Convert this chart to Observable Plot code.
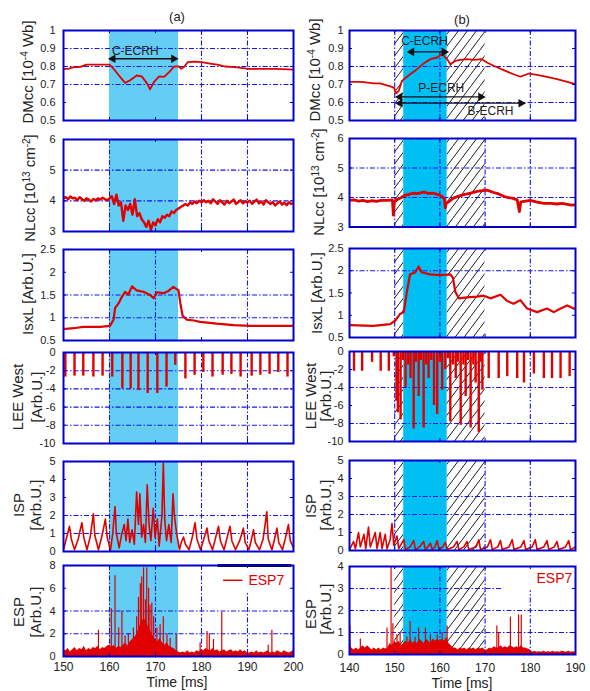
<!DOCTYPE html>
<html><head><meta charset="utf-8">
<script src="https://cdn.jsdelivr.net/npm/d3@7"></script>
<script src="https://cdn.jsdelivr.net/npm/@observablehq/plot@0.6"></script>
<style>
body{margin:0;background:#fff;}
#root{position:relative;width:590px;height:691px;overflow:hidden;font-family:"Liberation Sans",Arial,sans-serif;color:#222;}
.lab{position:absolute;white-space:nowrap;font-size:15px;line-height:1;transform:translate(-50%,-50%) rotate(-90deg);}
.lab sup{font-size:10px;vertical-align:0.45em;line-height:0;}
.h{position:absolute;white-space:nowrap;line-height:1;transform:translate(-50%,-50%);}
</style></head>
<body><div id="root"></div>
<svg width="0" height="0" style="position:absolute"><defs><pattern id="hatch" patternUnits="userSpaceOnUse" width="9" height="12"><path d="M-1,13.33L10,-1.33" stroke="#000" stroke-width="0.9" fill="none"/></pattern></defs></svg>
<script>
// ---------------- DATA ----------------
const ticksTA = [150,160,170,180,190,200];
const ticksTB = [140,150,160,170,180,190];
const ecrhA = [160,175];            // C-ECRH window (a)
const ecrhB = [152,161.6];          // C-ECRH window (b)
const hatchB = [[150,152],[161.6,170]];

// DMcc (a)
const dmccA = [[150,0.787],[151,0.787],[152.2,0.796],[153.5,0.796],[155,0.81],[157.9,0.81],[160,0.81],[160.6,0.795],[161.2,0.778],[162.3,0.742],[163.4,0.709],[164.5,0.724],[165.9,0.75],[167,0.745],[168.2,0.705],[168.8,0.673],[169.7,0.715],[170.8,0.745],[171.9,0.742],[173,0.77],[174.1,0.8],[175.1,0.8],[175.6,0.787],[176.3,0.8],[177,0.824],[178.5,0.827],[180,0.824],[182.2,0.815],[183.5,0.81],[185.1,0.8],[187.3,0.796],[190.2,0.787],[193.1,0.787],[196.1,0.787],[199,0.784],[200,0.782]];
// DMcc (b)
const dmccB = [[140.1,0.715],[142.7,0.715],[145.3,0.706],[146.8,0.706],[149.4,0.687],[149.9,0.68],[150.3,0.65],[150.9,0.665],[151.6,0.72],[152.7,0.743],[154.5,0.776],[156.4,0.817],[157.9,0.841],[159.4,0.85],[160.5,0.869],[161.6,0.841],[162.3,0.813],[163.4,0.831],[164.5,0.837],[166,0.841],[167.5,0.837],[169.3,0.841],[170.4,0.822],[171.9,0.804],[174.1,0.78],[176.3,0.757],[177.8,0.743],[179.7,0.761],[181.5,0.754],[183.7,0.743],[185.9,0.73],[188.2,0.715],[190,0.702]];
// annotation arrows [label, from, to, y, textX, textY]
const arrowsA = [["C-ECRH",160.1,174.6,0.843,165.6,0.887]];
const arrowsB = [["C-ECRH",153.1,161.6,0.881,156.6,0.939],["P-ECRH",150.5,169.7,0.631,160.3,0.68],["B-ECRH",150.5,178.6,0.596,171.2,0.554]];

// NLcc (a): 150..200 ms every 0.5 ms
const nlccA = [4.08,4.12,4.05,4.14,4.08,4.1,4.02,4.12,4.06,4.0,4.08,4.04,3.98,4.06,4.02,4.08,4.04,4.1,4.05,4.02,4.08,
 4.15,3.9,4.2,3.85,3.95,3.35,3.85,3.7,3.9,3.55,4.05,3.5,3.6,3.4,3.3,3.15,3.35,3.05,3.3,3.2,
 3.4,3.3,3.5,3.45,3.55,3.5,3.65,3.6,3.7,3.75,3.8,3.85,3.9,3.85,3.95,3.9,3.98,3.92,4.0,3.95,
 4.02,3.95,4.0,3.92,4.05,3.98,3.9,4.02,3.95,3.88,4.0,3.92,3.98,4.04,3.9,3.96,4.02,3.92,3.98,3.95,
 4.0,3.9,3.98,4.04,3.92,3.98,3.88,4.02,3.95,3.9,3.96,3.85,3.92,3.98,3.88,3.94,3.86,3.95,3.9,3.92];
// NLcc (b)
const nlccB = [[140,3.9],[141,3.92],[142,3.88],[143,3.9],[144,3.86],[145,3.89],[146,3.87],[147,3.9],[148.5,3.9],[149.5,3.92],[149.7,3.4],[149.9,3.85],[150.5,3.92],[151.5,4.0],[152.3,4.08],[153,4.1],[154.2,4.15],[155,4.13],[156.4,4.18],[157.5,4.14],[158.6,4.15],[159.5,4.1],[160.5,4.04],[161,3.95],[161.2,3.65],[161.4,3.8],[161.9,3.85],[163,3.98],[164,4.04],[165.3,4.1],[166.8,4.15],[168.2,4.21],[170.4,4.25],[171.9,4.17],[173,4.12],[174.1,4.04],[175,4.0],[176,3.98],[177.1,3.92],[177.6,3.52],[177.9,3.85],[179,3.88],[180,3.9],[181.5,3.84],[183,3.8],[184.5,3.8],[185.9,3.78],[187,3.8],[188.2,3.77],[189,3.74],[190,3.75]];

// IsxL
const isxlA = [[150,0.75],[152.2,0.77],[154.3,0.8],[158,0.8],[160.1,0.82],[160.9,0.96],[161.2,1.21],[162,1.32],[162.7,1.46],[163.4,1.57],[164.1,1.51],[164.9,1.69],[165.9,1.6],[167.4,1.57],[168.8,1.5],[169.6,1.43],[170.3,1.56],[171.7,1.54],[172.8,1.59],[173.9,1.68],[175,1.6],[175.4,1.32],[175.9,1.04],[176.8,0.96],[178.3,0.94],[179.7,0.91],[183.3,0.87],[187,0.84],[190.6,0.82],[194.2,0.82],[197.8,0.82],[200,0.82]];
const isxlB = [[140.1,0.78],[145.3,0.76],[149,0.8],[150.1,0.88],[151.2,1.03],[152,1.07],[152.7,1.53],[153.4,1.92],[154.5,1.96],[155.3,2.09],[156,1.96],[157.9,1.92],[160.1,1.9],[162.3,1.92],[162.9,1.84],[163.4,1.53],[164.2,1.38],[166,1.4],[168.2,1.42],[169.7,1.44],[171.2,1.38],[173.4,1.46],[174.9,1.32],[176.3,1.26],[177.8,1.34],[179.3,1.15],[181.5,1.07],[183.7,1.15],[185.2,1.07],[186.7,1.15],[188.2,1.22],[189.6,1.15],[190,1.15]];

// LEE West spikes [t, depth]
const leeA = [[150.4,-2.7],[152.4,-2.6],[154.3,-2.6],[156.5,-2.7],[158.5,-2.6],[160.6,-2.7],[162.8,-4.0],[164.6,-4.0],[166.3,-4.2],[168.3,-4.5],[170.4,-4.5],[172.4,-3.8],[174.3,-1.4],[176.5,-2.9],[178.5,-2.5],[180.4,-2.2],[182.4,-2.7],[184.6,-2.5],[186.5,-2.4],[188.5,-2.7],[190.9,-2.6],[192.8,-2.5],[194.8,-2.4],[196.7,-2.2],[198.7,-2.7]];
const leeB = [[141.0,-2.2],[142.8,-2.2],[145.0,-1.2],[146.9,-2.2],[148.7,-2.2],[149.8,-0.6],[150.4,-5.5],[150.7,-6.8],[151.3,-7.6],[151.8,-1.0],[152.4,-4.0],[153.0,-1.5],[153.5,-3.0],[154.2,-8.6],[154.7,-1.2],[155.3,-5.0],[155.8,-1.0],[156.4,-8.5],[157.0,-1.5],[157.5,-3.0],[158.1,-1.0],[158.7,-6.0],[159.4,-7.0],[160.0,-1.2],[160.5,-4.3],[161.2,-2.0],[161.8,-0.8],[162.3,-7.8],[162.9,-1.5],[163.5,-3.0],[164.0,-1.2],[164.6,-8.2],[165.2,-1.5],[165.7,-5.0],[166.2,-1.0],[166.8,-8.5],[167.4,-1.5],[167.9,-3.5],[168.6,-9.0],[169.0,-1.2],[169.4,-4.3],[170.8,-3.0],[173.0,-3.0],[174.9,-2.8],[177.1,-3.0],[178.6,-3.5],[180.8,-2.5],[183.0,-3.0],[184.8,-3.0],[186.7,-3.0],[188.7,-2.8]];

// ISP
const ispA = [[150,0.1],[150.5,0.6],[151.3,1.4],[151.7,0.7],[152.4,0.1],[153.2,0.7],[154.0,1.6],[154.4,0.8],[155.1,0.1],[155.8,0.8],[156.5,2.1],[156.8,0.9],[157.6,0.1],[158.4,0.9],[159.1,1.8],[159.5,0.8],[160.2,0.05],[160.7,1.0],[161.2,2.5],[161.5,1.0],[162.1,0.2],[162.6,0.9],[163.2,1.5],[163.6,0.6],[164.0,1.8],[164.4,0.5],[164.9,1.2],[165.4,0.4],[165.9,3.3],[166.3,1.5],[166.6,3.2],[167.0,0.8],[167.4,1.5],[167.8,0.5],[168.2,3.7],[168.6,1.5],[169.0,0.6],[169.5,2.4],[169.9,0.8],[170.4,1.8],[170.8,0.3],[171.4,2.0],[171.7,4.9],[172.0,1.8],[172.4,0.6],[172.9,1.5],[173.4,0.5],[173.8,3.2],[174.1,2.0],[174.6,1.0],[175.2,0.1],[175.6,0.5],[176.1,0.8],[176.5,0.4],[177.3,0.1],[178.0,0.8],[178.6,1.6],[179.0,0.7],[179.8,0.1],[180.5,0.7],[181.2,1.3],[181.6,0.6],[182.4,0.1],[183.0,0.7],[183.7,1.4],[184.1,0.6],[184.9,0.1],[185.5,0.7],[186.2,1.4],[186.6,0.6],[187.4,0.1],[188.3,0.6],[189.1,1.3],[189.5,0.5],[190.3,0.1],[190.8,0.6],[191.3,1.2],[191.7,0.5],[192.6,0.1],[193.4,0.7],[194.2,2.2],[194.5,0.7],[195.3,0.1],[195.8,0.6],[196.4,1.3],[196.8,0.5],[197.6,0.1],[198.2,0.7],[198.9,1.5],[199.3,0.6],[200,0.2]];
const ispB = [[140,0.05],[140.9,0.5],[141.3,0.1],[142.0,1.0],[142.4,0.2],[143.2,0.9],[143.6,0.1],[144.2,1.3],[144.6,0.2],[145.7,1.0],[146.1,0.1],[146.8,1.0],[147.2,0.1],[147.9,0.9],[148.3,0.1],[149.0,0.6],[149.4,1.5],[149.8,0.3],[150.5,0.8],[150.9,0.1],[152.0,0.6],[152.4,0.05],[153.4,0.2],[154.2,0.55],[154.6,0.05],[155.5,0.2],[156.4,0.5],[156.8,0.05],[157.3,0.2],[157.9,0.4],[158.3,0.05],[158.9,0.2],[159.4,0.55],[159.8,0.05],[160.6,0.2],[161.2,0.45],[161.6,0.05],[163.0,0.2],[163.8,0.5],[164.2,0.05],[165.3,0.2],[166.0,0.5],[166.4,0.05],[168.0,0.2],[168.6,0.6],[169.0,0.05],[170.5,0.2],[171.2,0.6],[171.6,0.05],[172.8,0.2],[173.4,0.55],[173.8,0.05],[175.3,0.2],[176.0,0.6],[176.4,0.05],[177.9,0.2],[178.6,0.55],[179.0,0.05],[180.4,0.2],[181.1,0.6],[181.5,0.05],[183.0,0.2],[183.7,0.55],[184.1,0.05],[185.3,0.2],[185.9,0.5],[186.3,0.05],[187.8,0.2],[188.5,0.55],[188.9,0.05],[190,0.2]];

// ESP7 baseline (every 0.5 ms) and spikes [t, peak]
const espBaseA = [0.6,0.5,0.7,0.4,0.6,0.8,0.5,0.7,0.6,0.9,0.5,0.7,0.6,0.8,0.7,0.9,0.6,0.8,0.7,0.9,1.0,
 0.8,1.0,0.7,0.9,0.8,1.0,1.2,0.9,1.3,1.5,1.7,2.0,2.6,3.0,3.4,3.0,2.6,2.2,1.8,1.5,
 1.3,1.6,1.2,1.0,1.2,0.9,0.8,0.7,0.5,0.4,0.3,0.4,0.3,0.5,0.3,0.4,0.3,0.5,0.4,0.6,
 0.5,0.7,0.6,0.5,0.7,0.5,0.6,0.4,0.5,0.6,0.4,0.5,0.6,0.4,0.5,0.4,0.6,0.4,0.5,0.3,
 0.3,0.4,0.3,0.5,0.3,0.4,0.3,0.4,0.5,0.3,0.4,0.3,0.5,0.4,0.3,0.5,0.4,0.3,0.4,0.5];
const espSpkA = [[157.6,2.3],[160.4,4.2],[161.2,7.1],[162.0,2.5],[162.7,4.0],[163.4,1.8],[164.1,2.0],[165.2,2.5],[165.9,3.5],[166.3,5.2],[166.7,6.4],[167.0,7.0],[167.4,7.8],[167.8,5.0],[168.1,7.8],[168.5,6.0],[168.8,4.5],[169.2,4.7],[169.6,3.5],[170.3,2.5],[171.0,2.8],[171.7,3.5],[172.5,2.0],[173.2,1.6],[174.5,2.0],[179.7,1.2],[181.2,2.2],[181.7,2.0],[182.6,1.5],[184.4,3.9],[194.5,1.0],[195.3,2.3]];
const espBaseB = [0.6,0.3,0.2,0.3,0.2,0.3,0.4,0.3,0.4,0.3,0.2,0.3,0.2,0.3,0.2,0.3,0.25,0.3,0.5,0.4,0.6,
 0.5,0.6,0.4,0.5,0.6,0.5,0.7,0.5,0.6,0.5,0.7,0.6,0.5,0.7,0.6,0.5,0.7,0.6,0.7,0.6,
 0.7,0.6,0.8,0.5,0.4,0.3,0.3,0.2,0.3,0.25,0.3,0.2,0.3,0.25,0.3,0.2,0.3,0.25,0.3,0.2,
 0.2,0.3,0.25,0.35,0.3,0.3,0.4,0.3,0.35,0.3,0.4,0.35,0.3,0.35,0.3,0.4,0.3,0.3,0.25,0.2,
 0.1,0.15,0.1,0.12,0.1,0.15,0.1,0.12,0.1,0.15,0.1,0.12,0.1,0.15,0.12,0.1,0.15,0.1,0.12,0.1];
const espSpkB = [[140.1,1.3],[142.4,0.7],[148.3,1.2],[149.2,4.0],[149.6,1.4],[150.5,0.9],[151.2,1.0],[152.7,0.8],[153.4,1.5],[154.5,0.8],[155.3,1.2],[156.8,1.2],[157.9,0.9],[159.4,0.9],[160.5,1.0],[161.6,1.3],[172.6,1.3],[173.0,1.0],[175.6,1.7],[177.4,1.8],[178.0,1.8]];

// ---------------- DRAWING ----------------
const root = document.getElementById("root");
const RED = "#e00000", BLUE = "#0000cc", GRID = "#1515ee", INK = "#222";
const CYAN_A = "#63cdf3", CYAN_B = "#00bff2";
const FONT = "Liberation Sans, Arial, sans-serif";
const P = a => a.map(([t, v]) => ({t, v}));
const S = (t0, dt, vals) => vals.map((v, i) => ({t: t0 + i * dt, v}));
const gridStyle = {stroke: GRID, strokeWidth: 1.1, strokeDasharray: "5,2,1.5,2"};

function panel(o) {
  const mL = 40, mR = 4, mT = 4, mB = o.xticks ? 34 : 4;
  const w = o.fx1 - o.fx0, h = o.fy1 - o.fy0;
  const [xa, xb] = o.xd, [ya, yb] = o.yd;
  const kx = (xb - xa) * 3 / w, ky = (yb - ya) * 3 / h;
  const tk = o.xtk;
  const marks = [
    ...(o.shade || []),
    Plot.ruleY(o.gridY || [], gridStyle),
    Plot.ruleX(o.gridX || [], gridStyle),
    ...(o.under || []),
    ...(o.marks || []),
    Plot.ruleY(o.yticks, {x1: xa, x2: xa + kx, stroke: BLUE}),
    Plot.ruleY(o.yticks, {x1: xb - kx, x2: xb, stroke: BLUE}),
    Plot.ruleX(tk, {y1: ya, y2: ya + ky, stroke: BLUE}),
    Plot.ruleX(tk, {y1: yb - ky, y2: yb, stroke: BLUE}),
    Plot.frame({stroke: BLUE, strokeWidth: 2}),
    Plot.axisY({ticks: o.yticks, tickSize: 0, tickPadding: o.ypad, tickFormat: d => String(d), label: null, fontSize: 11})
  ];
  if (o.xticks) marks.push(Plot.axisX({ticks: o.xticks, tickSize: 0, tickPadding: o.xpad, tickFormat: d => String(d), label: null, fontSize: 12}));
  const svg = Plot.plot({
    width: w + mL + mR, height: h + mT + mB,
    marginLeft: mL, marginRight: mR, marginTop: mT, marginBottom: mB,
    x: {domain: o.xd, ...(o.xticks ? {} : {axis: null})},
    y: {domain: o.yd},
    style: {fontFamily: FONT, fontSize: "11px", color: INK, background: "transparent", overflow: "visible"},
    marks
  });
  svg.style.position = "absolute";
  svg.style.left = (o.fx0 - mL) + "px";
  svg.style.top = (o.fy0 - mT) + "px";
  svg.style.maxWidth = "none";
  root.appendChild(svg);
}

function label(html, x, y, rot = true, size = 15) {
  const d = document.createElement("div");
  d.className = rot ? "lab" : "h";
  d.style.left = x + "px"; d.style.top = y + "px"; d.style.fontSize = size + "px";
  d.innerHTML = html;
  root.appendChild(d);
}

const shadeA = [Plot.rect([ecrhA], {x1: d => d[0], x2: d => d[1], fill: CYAN_A})];
const shadeB = [
  Plot.rect(hatchB, {x1: d => d[0], x2: d => d[1], fill: "url(#hatch)"}),
  Plot.rect([ecrhB], {x1: d => d[0], x2: d => d[1], fill: CYAN_B})
];
const redLine = (data, sw = 1.8) => Plot.line(P(data), {x: "t", y: "v", stroke: RED, strokeWidth: sw, clip: true});
function arrowMarks(arr) {
  const d = arr.map(([label, a, b, y, tx, ty]) => ({label, a, b, y, tx, ty}));
  return [
    Plot.ruleY(d, {x1: "a", x2: "b", y: "y", stroke: "#111", strokeWidth: 1.3}),
    Plot.dot(d, {x: "a", y: "y", symbol: "triangle", r: 3.2, fill: "#111", rotate: -90, dx: 3}),
    Plot.dot(d, {x: "b", y: "y", symbol: "triangle", r: 3.2, fill: "#111", rotate: 90, dx: -3}),
    Plot.text(d, {x: "tx", y: "ty", text: "label", fontSize: 12, fill: INK})
  ];
}
const spikes = (data, sw) => Plot.ruleX(P(data), {x: "t", y1: 0, y2: "v", stroke: RED, strokeWidth: sw, clip: true});

const A = {fx0: 63, fx1: 293, xd: [150, 200], xtk: [160, 170, 180, 190], ypad: 8};
const B = {fx0: 349, fx1: 575, xd: [140, 190], xtk: [150, 160, 170, 180], ypad: 6};

// ----- column (a)
panel({...A, fy0: 30, fy1: 120, yd: [0.5, 1], yticks: [0.5,0.6,0.7,0.8,0.9,1], gridY: [0.7,0.8,0.9], gridX: [180,190], shade: shadeA,
  marks: [redLine(dmccA, 1.8), ...arrowMarks(arrowsA)]});
panel({...A, fy0: 139, fy1: 231, yd: [3, 6], yticks: [3,4,5,6], gridY: [4,5], gridX: [160,180,190], shade: shadeA,
  marks: [Plot.line(S(150, 0.5, nlccA), {x: "t", y: "v", stroke: RED, strokeWidth: 2.4, clip: true})]});
panel({...A, fy0: 249, fy1: 340, yd: [0.5, 2.5], yticks: [0.5,1,1.5,2,2.5], gridY: [1,1.5], gridX: [160,170,190], shade: shadeA,
  marks: [redLine(isxlA, 2.2)]});
panel({...A, fy0: 352, fy1: 443, yd: [-10, 0], yticks: [-10,-8,-6,-4,-2,0], gridY: [-8,-6,-4,-2], gridX: [160,180,190], shade: shadeA,
  marks: [spikes(leeA, 2.4)]});
panel({...A, fy0: 461, fy1: 551, yd: [0, 5], yticks: [0,1,2,3,4,5], gridY: [1,2], gridX: [160,170,180,190], shade: shadeA,
  marks: [redLine(ispA, 1.6)]});
panel({...A, fy0: 565, fy1: 656, yd: [0, 8], yticks: [0,2,4,6,8], gridY: [2,4], gridX: [160,170,180,190], shade: shadeA,
  xticks: ticksTA, xpad: 6,
  under: [Plot.rect([[183.6, 199.6]], {x1: d => d[0], x2: d => d[1], y1: 5.7, y2: 8, fill: "white"})],
  marks: [
    Plot.areaY(S(150, 0.5, espBaseA), {x: "t", y: "v", fill: RED, clip: true}),
    spikes(espSpkA, 1.2),
    Plot.ruleY([8], {x1: 183.6, x2: 199.6, stroke: "#000", strokeWidth: 3}),
    Plot.ruleY([6.7], {x1: 184.8, x2: 189.0, stroke: RED, strokeWidth: 1.5}),
    Plot.text(["ESP7"], {x: 190.2, y: 6.7, text: d => d, textAnchor: "start", fill: RED, fontSize: 14})
  ]});

// ----- column (b)
panel({...B, fy0: 30, fy1: 120, yd: [0.5, 1], yticks: [0.5,0.6,0.7,0.8,0.9,1], gridY: [0.6,0.8], gridX: [150,160,180], shade: shadeB,
  marks: [redLine(dmccB, 1.8), ...arrowMarks(arrowsB)]});
panel({...B, fy0: 138, fy1: 226.5, yd: [3, 6], yticks: [3,4,5,6], gridY: [4,5], gridX: [150,160,170,180], shade: shadeB,
  marks: [redLine(nlccB, 2.8)]});
panel({...B, fy0: 248, fy1: 337, yd: [0.5, 2.5], yticks: [0.5,1,1.5,2,2.5], gridY: [2], gridX: [150,160,180], shade: shadeB,
  marks: [redLine(isxlB, 2.2)]});
panel({...B, fy0: 351, fy1: 441, yd: [-10, 0], yticks: [-10,-8,-6,-4,-2,0], gridY: [-8,-4], gridX: [150,180], shade: shadeB,
  marks: [spikes(leeB, 2.4)]});
panel({...B, fy0: 460, fy1: 550, yd: [0, 5], yticks: [0,1,2,3,4,5], gridY: [2,3], gridX: [150,170,180], shade: shadeB,
  marks: [redLine(ispB, 1.6)]});
panel({...B, fy0: 566, fy1: 654, yd: [0, 4], yticks: [0,1,2,3,4], gridY: [1,2,3], gridX: [160,170,180], shade: shadeB,
  xticks: ticksTB, xpad: 9,
  under: [Plot.rect([[173.8, 190]], {x1: d => d[0], x2: d => d[1], y1: 2.9, y2: 4, fill: "white"})],
  marks: [
    Plot.areaY(S(140, 0.5, espBaseB), {x: "t", y: "v", fill: RED, clip: true}),
    spikes(espSpkB, 1.2),
    Plot.text(["ESP7"], {x: 189.3, y: 3.45, text: d => d, textAnchor: "end", fill: RED, fontSize: 14})
  ]});

// ----- texts
label("(a)", 177, 16, false, 13);
label("(b)", 462, 19, false, 13);
label("Time [ms]", 177, 682, false, 14);
label("Time [ms]", 462, 683, false, 14);
label("DMcc [10<sup>-4</sup> Wb]", 27, 72);
label("NLcc [10<sup>13</sup> cm<sup>-2</sup>]", 29, 188);
label("IsxL [Arb.U.]", 27, 294);
label("LEE West", 17, 397); label("[Arb.U.]", 36, 397);
label("ISP", 18, 505); label("[Arb.U.]", 35, 505);
label("ESP", 18, 612); label("[Arb.U.]", 35, 612);
label("DMcc [10<sup>-4</sup> Wb]", 314, 70);
label("NLcc [10<sup>13</sup> cm<sup>-2</sup>]", 318, 182);
label("IsxL [Arb.U.]", 316, 293);
label("LEE West", 310, 396); label("[Arb.U.]", 325, 396);
label("ISP", 310, 506); label("[Arb.U.]", 325, 505);
label("ESP", 310, 614); label("[Arb.U.]", 325, 609);
</script>
</body></html>
